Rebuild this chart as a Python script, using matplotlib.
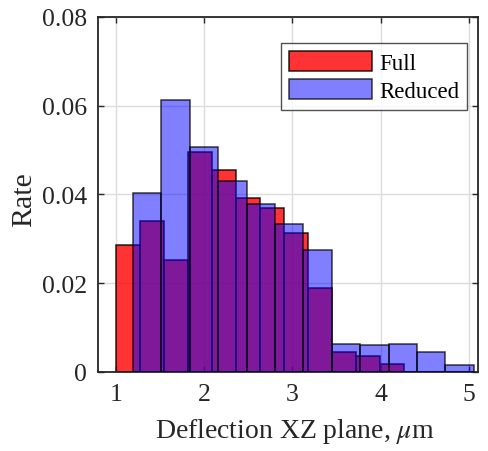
import numpy as np
import matplotlib.pyplot as plt

plt.rcParams['font.family'] = ['Liberation Serif', 'DejaVu Serif']
plt.rcParams['mathtext.fontset'] = 'stix'

# bin edges and rates
full_edges = [1.0, 1.272, 1.543, 1.815, 2.087, 2.358, 2.630, 2.902, 3.173,
              3.445, 3.717, 3.988, 4.260]
full_rate = [0.0286, 0.0340, 0.0253, 0.0496, 0.0456, 0.0392, 0.0370, 0.0313,
             0.0189, 0.0045, 0.0037, 0.0018]

reduced_edges = [1.196, 1.517, 1.839, 2.160, 2.482, 2.803, 3.125, 3.446,
                 3.768, 4.089, 4.411, 4.732, 5.054]
reduced_rate = [0.0403, 0.0613, 0.0508, 0.0430, 0.0378, 0.0334, 0.0276,
                0.0064, 0.0060, 0.0064, 0.0046, 0.0016]

fig = plt.figure(figsize=(4.89, 4.52), dpi=100)
ax = fig.add_axes([0.2004, 0.1748, 0.7771, 0.7854])

fe = np.array(full_edges)
re = np.array(reduced_edges)
ax.bar(fe[:-1], full_rate, width=np.diff(fe), align='edge',
       facecolor=(1, 0, 0, 0.8), edgecolor=(0, 0, 0, 0.85), linewidth=1.1,
       label='Full', zorder=2)
ax.bar(re[:-1], reduced_rate, width=np.diff(re), align='edge',
       facecolor=(0, 0, 1, 0.5), edgecolor=(0, 0, 0, 0.75), linewidth=1.1,
       label='Reduced', zorder=3)

ax.set_xlim(0.8, 5.1)
ax.set_ylim(0, 0.08)
ax.set_xticks([1, 2, 3, 4, 5])
ax.set_yticks([0, 0.02, 0.04, 0.06, 0.08])
ax.set_yticklabels(['0', '0.02', '0.04', '0.06', '0.08'])

ax.grid(True, color='#dcdcdc', linewidth=1.0, zorder=0)
ax.set_axisbelow(True)
ax.tick_params(direction='in', top=True, right=True, length=4, width=1,
               labelsize=18.5, colors='#262626', pad=8)
for s in ax.spines.values():
    s.set_linewidth(1.3)
    s.set_color('#262626')

ax.set_xlabel(r'Deflection XZ plane, $\mu$m', fontsize=20, color='#262626')
ax.set_ylabel('Rate', fontsize=21.5, color='#262626')
ax.xaxis.set_label_coords(0.518, -0.124)
ax.yaxis.set_label_coords(-0.16, 0.487)

leg = ax.legend(loc='upper right', bbox_to_anchor=(0.971, 0.927),
                fontsize=16.5, frameon=True, fancybox=False,
                handlelength=3.6, handleheight=0.95, borderpad=0.35,
                labelspacing=0.25, handletextpad=0.3, borderaxespad=0)
leg.get_frame().set_edgecolor('#262626')
leg.get_frame().set_linewidth(1.0)

fig.savefig('out.png', dpi=100)
